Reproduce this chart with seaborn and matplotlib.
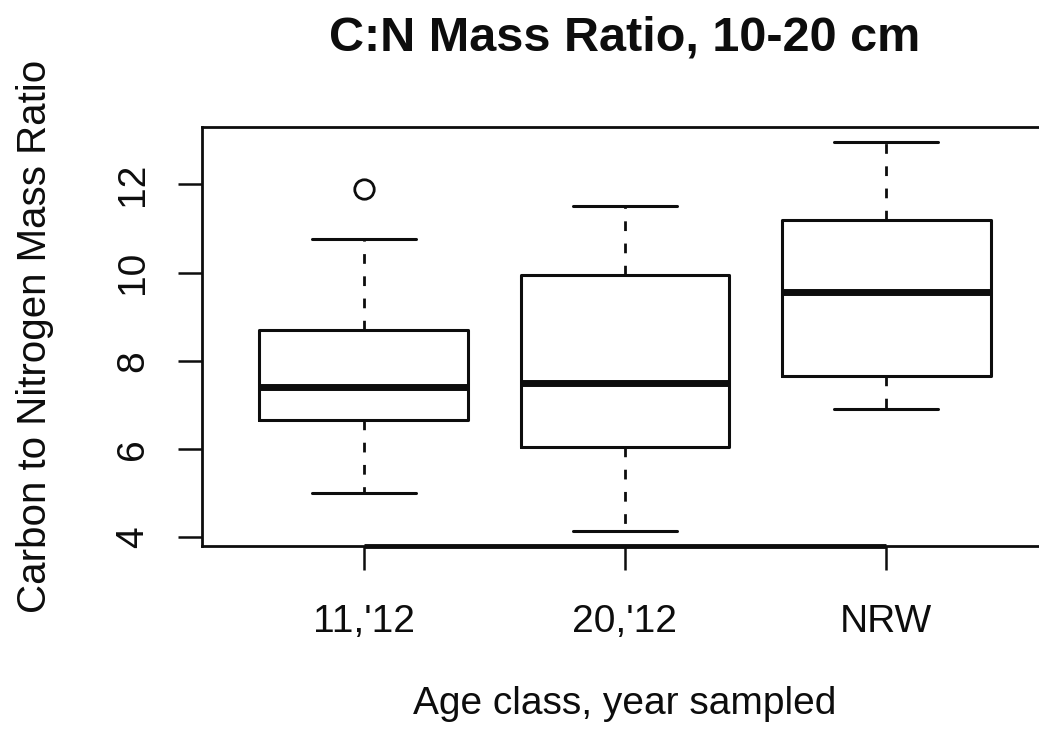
import matplotlib
matplotlib.use("Agg")
import matplotlib.pyplot as plt
import seaborn as sns

# five-number summaries (R style boxplot)
groups = ["11,'12", "20,'12", "NRW"]
whisker_low = [5.0, 4.15, 6.9]
q1 = [6.65, 6.05, 7.65]
median = [7.4, 7.5, 9.55]
q3 = [8.7, 9.95, 11.2]
whisker_high = [10.75, 11.5, 12.95]
outliers = [[11.9], [], []]
y_ticks = [4, 6, 8, 10, 12]

sns.set_theme(style="ticks")
plt.rcParams['font.family'] = ['Liberation Sans', 'DejaVu Sans']

stats = []
for i, name in enumerate(groups):
    stats.append(dict(label=name, whislo=whisker_low[i], q1=q1[i], med=median[i],
                      q3=q3[i], whishi=whisker_high[i], fliers=outliers[i]))

ink = '#0d0d0d'
fig = plt.figure(figsize=(10.39, 7.46), dpi=100)
ax = fig.add_axes([202 / 1039, 1 - 546 / 746, (1048 - 202) / 1039, (546 - 127) / 746])

positions = list(range(1, len(groups) + 1))
ax.bxp(stats, positions=positions, widths=0.8, showfliers=True,
       boxprops=dict(color=ink, linewidth=2.2),
       medianprops=dict(color=ink, linewidth=5),
       whiskerprops=dict(color=ink, linewidth=2, linestyle=(0, (3.5, 4.5))),
       capprops=dict(color=ink, linewidth=2.2),
       capwidths=0.4,
       flierprops=dict(marker='o', markerfacecolor='none', markeredgecolor=ink,
                       markersize=14, markeredgewidth=2))

ax.set_xlim(0.38, 3.62)
ax.set_ylim(3.8, 13.3)
ax.set_yticks(y_ticks)
ax.set_xticks(positions)
ax.set_xticklabels(groups)

for side in ['left', 'right', 'top', 'bottom']:
    ax.spines[side].set_visible(True)
    ax.spines[side].set_linewidth(2)
    ax.spines[side].set_color(ink)

# R draws the axis line between the first and last tick over the frame
ax.plot([positions[0], positions[-1]], [0, 0], transform=ax.get_xaxis_transform(),
        color=ink, linewidth=3.5, clip_on=False, solid_capstyle='butt')

ax.tick_params(axis='both', length=17, width=1.8, color=ink, labelsize=28, labelcolor=ink)
ax.tick_params(axis='x', pad=25)
ax.tick_params(axis='y', pad=19.5, labelrotation=90)
for lab in ax.get_yticklabels():
    lab.set_va('center')

ax.set_title("C:N Mass Ratio, 10-20 cm", fontsize=35, fontweight='bold', pad=55, color=ink)
ax.set_xlabel("Age class, year sampled", fontsize=28, labelpad=33, color=ink)
ax.set_ylabel("Carbon to Nitrogen Mass Ratio", fontsize=29, labelpad=44, color=ink)

fig.savefig("out.png", dpi=100)
